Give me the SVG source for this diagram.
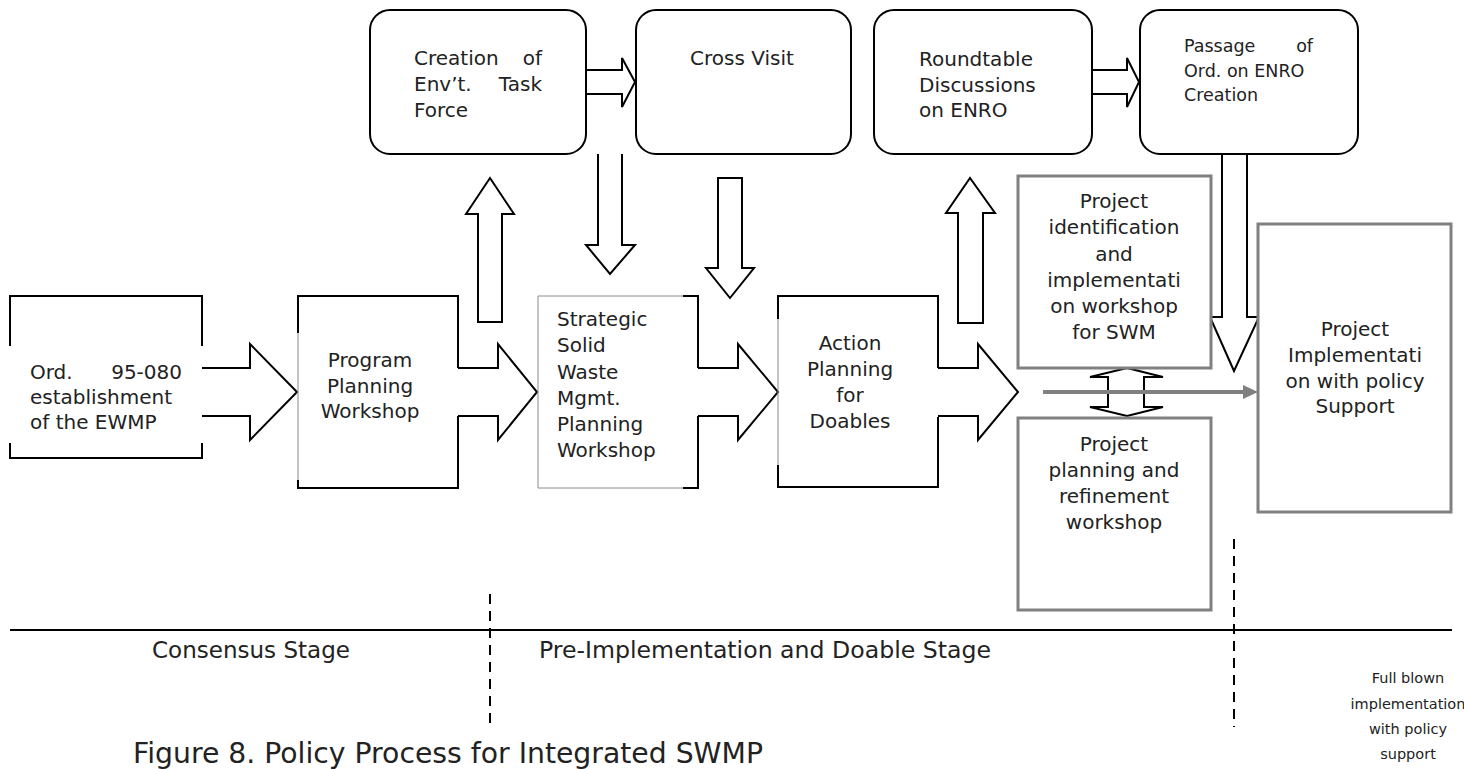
<svg xmlns="http://www.w3.org/2000/svg" width="1464" height="769" viewBox="0 0 1464 769">
<style>
text { font-family: "DejaVu Sans", "Liberation Sans", sans-serif; font-size: 20px; fill: #222; }
.c { text-anchor: middle; }
.e { text-anchor: end; }
.rbox { fill: #fff; stroke: #000; stroke-width: 2; }
.bk { fill: none; stroke: #000; stroke-width: 2; }
.thin { fill: none; stroke: #8a8a8a; stroke-width: 1; }
.gbox { fill: #fff; stroke: #808080; stroke-width: 3; }
.blk { fill: #fff; stroke: #000; stroke-width: 2; stroke-linejoin: miter; }
.sm { font-size: 17.5px; }
.xs { font-size: 14.5px; }
.lab { font-size: 23px; }
.title { font-size: 28px; }
.dash { stroke: #000; stroke-width: 2; stroke-dasharray: 10 7; fill: none; }
</style>
<rect x="0" y="0" width="1464" height="769" fill="#fff"/>

<g id="connectors">
  <path class="blk" d="M202,368 H250 V344 L297,392 L250,440 V416 H202"/>
  <path class="blk" d="M458,368 H498 V344 L537,392 L498,440 V416 H458"/>
  <path class="blk" d="M698,368 H738 V344 L778,392 L738,440 V416 H698"/>
  <path class="blk" d="M938,368 H978 V344 L1018,392 L978,440 V416 H938"/>
  <path class="blk" d="M478,322 V214 H466 L490,178 L514,214 H502 V322 Z"/>
  <path class="blk" d="M598,154 V245 H586 L610,274 L635,245 H622 V154"/>
  <path class="blk" d="M718,178 V268 H706 L730,298 L754,268 H742 V178 Z"/>
  <path class="blk" d="M958,323 V213 H946 L970,178 L995,213 H983 V323 Z"/>
  <path class="blk" d="M1222,154 V317 H1210 L1234,371 L1259,317 H1247 V154"/>
  <path class="blk" d="M587,70 H622 V58 L635,82 L622,107 V94 H587"/>
  <path class="blk" d="M1093,70 H1127 V58 L1139,82 L1127,107 V94 H1093"/>
  <path class="blk" d="M1127,368 L1163,377 H1144 V407 H1163 L1127,416 L1090,407 H1108 V377 H1090 Z"/>
  <line x1="1043" y1="392" x2="1244" y2="392" stroke="#808080" stroke-width="4"/>
  <polygon points="1243,385 1258,392 1243,399" fill="#808080"/>
</g>

<g id="ord">
  <path class="bk" d="M10,346 V296 H202 V346 M10,443 V458 H202 V443"/>
  <text x="30" y="379">Ord.</text>
  <text x="182" y="379" class="e">95-080</text>
  <text x="30" y="404">establishment</text>
  <text x="30" y="429">of the EWMP</text>
</g>

<g id="program">
  <path class="bk" d="M298,333 V296 H458 V368 M458,416 V488 H298 V480"/>
  <path class="thin" d="M298,333 V480"/>
  <text x="370" y="367" class="c">Program</text>
  <text x="370" y="393" class="c">Planning</text>
  <text x="370" y="418" class="c">Workshop</text>
</g>

<g id="strategic">
  <path class="thin" d="M683,296 H538 V488 H683"/>
  <path class="bk" d="M683,296 H698 V368 M698,416 V488 H683"/>
  <text x="557" y="326">Strategic</text>
  <text x="557" y="352">Solid</text>
  <text x="557" y="379">Waste</text>
  <text x="557" y="405">Mgmt.</text>
  <text x="557" y="431">Planning</text>
  <text x="557" y="457">Workshop</text>
</g>

<g id="action">
  <path class="bk" d="M778,319 V296 H938 V368 M938,417 V487 H778 V465"/>
  <path class="thin" d="M778,319 V465"/>
  <text x="850" y="350" class="c">Action</text>
  <text x="850" y="376" class="c">Planning</text>
  <text x="850" y="402" class="c">for</text>
  <text x="850" y="428" class="c">Doables</text>
</g>

<g id="creation">
  <rect class="rbox" x="370" y="10" width="216" height="144" rx="20" ry="20"/>
  <text x="414" y="65">Creation</text>
  <text x="542" y="65" class="e">of</text>
  <text x="414" y="91">Env’t.</text>
  <text x="542" y="91" class="e">Task</text>
  <text x="414" y="117">Force</text>
</g>

<g id="crossvisit">
  <rect class="rbox" x="636" y="10" width="215" height="144" rx="20" ry="20"/>
  <text x="742" y="65" class="c">Cross Visit</text>
</g>

<g id="roundtable">
  <rect class="rbox" x="874" y="10" width="218" height="144" rx="20" ry="20"/>
  <text x="919" y="66">Roundtable</text>
  <text x="919" y="92">Discussions</text>
  <text x="919" y="117">on ENRO</text>
</g>

<g id="passage">
  <rect class="rbox" x="1140" y="10" width="218" height="144" rx="20" ry="20"/>
  <text x="1184" y="52" class="sm">Passage</text>
  <text x="1313" y="52" class="sm e">of</text>
  <text x="1184" y="77" class="sm">Ord. on ENRO</text>
  <text x="1184" y="101" class="sm">Creation</text>
</g>

<g id="identification">
  <rect class="gbox" x="1018" y="176" width="193" height="192"/>
  <text x="1114" y="208" class="c">Project</text>
  <text x="1114" y="234" class="c">identification</text>
  <text x="1114" y="261" class="c">and</text>
  <text x="1114" y="287" class="c">implementati</text>
  <text x="1114" y="313" class="c">on workshop</text>
  <text x="1114" y="339" class="c">for SWM</text>
</g>

<g id="planning">
  <rect class="gbox" x="1018" y="418" width="193" height="192"/>
  <text x="1114" y="451" class="c">Project</text>
  <text x="1114" y="477" class="c">planning and</text>
  <text x="1114" y="503" class="c">refinement</text>
  <text x="1114" y="529" class="c">workshop</text>
</g>

<g id="implementation">
  <rect class="gbox" x="1258" y="224" width="193" height="288"/>
  <text x="1355" y="336" class="c">Project</text>
  <text x="1355" y="362" class="c">Implementati</text>
  <text x="1355" y="388" class="c">on with policy</text>
  <text x="1355" y="413" class="c">Support</text>
</g>

<g id="stages">
  <line x1="10" y1="630" x2="1452" y2="630" stroke="#000" stroke-width="2"/>
  <line class="dash" x1="490" y1="594" x2="490" y2="727"/>
  <line class="dash" x1="1234" y1="539" x2="1234" y2="727"/>
  <text x="152" y="658" class="lab" textLength="198" lengthAdjust="spacingAndGlyphs">Consensus Stage</text>
  <text x="539" y="658" class="lab" textLength="452" lengthAdjust="spacingAndGlyphs">Pre-Implementation and Doable Stage</text>
  <text x="1408" y="683" class="xs c">Full blown</text>
  <text x="1408" y="709" class="xs c">implementation</text>
  <text x="1408" y="734" class="xs c">with policy</text>
  <text x="1408" y="759" class="xs c">support</text>
</g>

<text x="133" y="763" class="title" textLength="630" lengthAdjust="spacingAndGlyphs">Figure 8. Policy Process for Integrated SWMP</text>
</svg>
